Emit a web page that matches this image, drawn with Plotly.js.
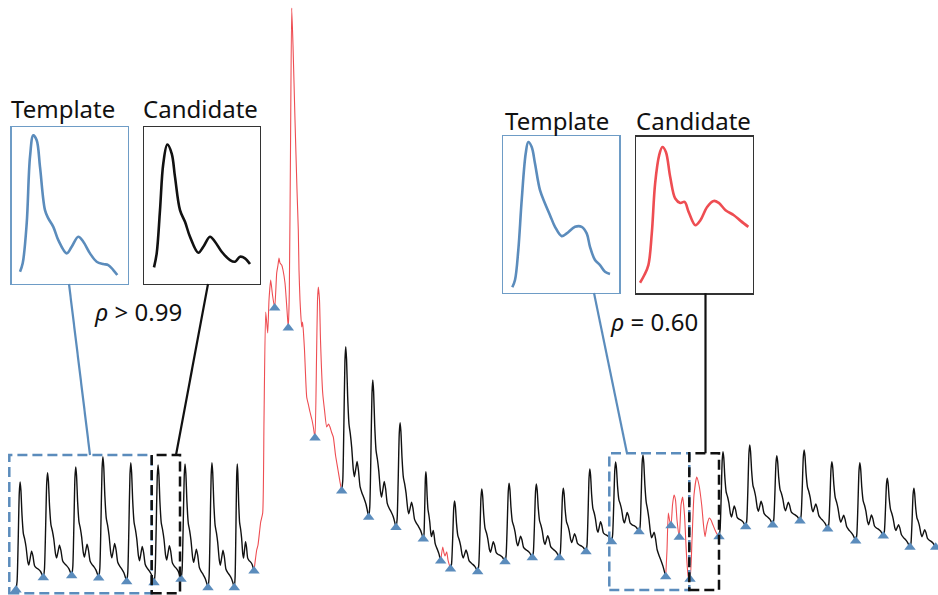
<!DOCTYPE html>
<html>
<head>
<meta charset="utf-8">
<script src="https://cdn.plot.ly/plotly-3.0.1.min.js"></script>
<style>
  html, body { margin: 0; padding: 0; background: #fff; }
  #chart { width: 938px; height: 595px; }
</style>
</head>
<body>
<div id="chart"></div>
<script>
// ---- Pulse signal: detected beat onsets (time, level) ----
const onsetTime = [16, 43.3, 71.7, 98.7, 126.7, 154, 181, 208, 234.3, 254,
  274.7, 288.3, 315, 341.7, 368.7, 396, 423.3, 440.7, 450.5, 477.7,
  505, 532.3, 559.3, 586, 611.5, 639, 665.7, 671, 679.3, 690,
  719, 745.7, 772.7, 800, 827.7, 855.7, 883.3, 910, 935.7];
const onsetLevel = [5, 17.3, 19.3, 17, 13.3, 12.3, 15.7, 7.3, 7.3, 24,
  287, 267, 157, 104, 77.7, 67.5, 56, 34, 26, 23.3,
  33.3, 37.3, 37.3, 43.3, 53.3, 63.3, 18.3, 69.3, 57.7, 15.7,
  58.3, 68.3, 70, 74, 66, 54, 59, 47.7, 47.7];
// Systolic peak of each clean beat (null = beat flagged as artifact)
const peakLevel = [113, 122.3, 128, 138.3, 132.3, 130, 131, 132.3, 131, null,
  null, null, null, 248.3, 215, 172.3, 123.3, null, 94, 106,
  111.7, 111, 106.7, 126, 133, 140, null, null, null, null,
  143.3, 150, 139.3, 145, 133.3, 132.3, 116.7, 106.7, null];

// Normalised pulse contour (fraction of beat duration, fraction of amplitude)
const shapePhase = [0, 0.04, 0.08, 0.12, 0.15, 0.18, 0.22, 0.27, 0.32, 0.37, 0.43,
  0.47, 0.52, 0.57, 0.62, 0.68, 0.75, 0.82, 0.9, 0.96, 1];
const shapeFrac = [0, 0.08, 0.45, 0.9, 1, 0.92, 0.68, 0.5, 0.44, 0.36, 0.22,
  0.18, 0.24, 0.3, 0.25, 0.15, 0.12, 0.1, 0.07, 0.03, 0];

// ---- Artifact segments of the signal ----
const artifactTime = [
  254, 256.7, 258, 260.7, 262.7, 264, 265.7, 267.7, 269, 270.7, 272.5, 274.7, 276.7, 278, 279, 280,
  281.7, 283, 285, 287, 288.3, 289.3, 290.5, 291.7, 293, 295, 297, 298.3, 299, 300, 301.7, 302.5,
  303.3, 304.5, 306.7, 308.5, 310, 312, 313.5, 315, 316.5, 317.5, 318.3, 319.5, 320.5, 322.7, 324.5,
  326.7, 328.5, 330, 331.5, 333.3, 335.5, 338, 340, 341.7, null,
  440.7, 442.7, 444, 445, 446.7, 448, 450.5, null,
  665.7, 667, 668.3, 669.5, 671, 672.5, 674, 675.5, 677, 679.3, 681, 682.7, 684.5, 686.5, 688.3,
  690, 692, 694, 696.7, 699, 701.7, 703.5, 705, 707, 709.3, 711, 713, 715, 717, 719];
const artifactLevel = [
  24, 45, 50, 73, 82, 175, 283, 262, 295, 315, 300, 287, 322, 330, 337, 332,
  330, 325, 312, 285, 267, 302, 445, 587, 550, 475, 405, 365, 325, 295, 268, 273,
  265, 245, 198, 190, 183, 175, 167, 157, 235, 295, 308, 295, 255, 202, 185,
  168, 171, 168, 163, 158, 140, 125, 113, 104, null,
  34, 48, 42, 39, 43.3, 35, 26, null,
  18.3, 45, 82, 75, 69.3, 90, 100, 95, 75, 58, 90, 98, 80, 40, 18.3,
  15.7, 55, 100, 118, 110, 90, 70, 58.3, 70, 77, 75, 70, 65, 61, 58.3];

// ---- Beat contours shown in the comparison panels ----
const tplA_t = [8.3, 11, 15, 18.3, 21.6, 25, 28.3, 33.3, 36.6, 41.6, 46.6, 55, 60, 66.6, 71.6, 78.3, 85, 91.6, 96.6, 101.6, 105.6];
const tplA_v = [12.3, 20.7, 60.7, 127.3, 149, 144, 117.3, 74, 65.7, 57.3, 44, 30.7, 37.3, 47.3, 42.3, 30.7, 22.3, 20, 19, 14, 9];
const candA_t = [10, 12.7, 16, 19.3, 23.3, 27.7, 31, 36, 41, 46, 54.3, 59.3, 66, 71, 77.7, 86, 91, 96, 101, 106];
const candA_v = [16.7, 30.7, 74, 120.7, 139.7, 130.7, 107.3, 74, 62.3, 47.3, 31.3, 37.3, 47.3, 42.3, 32.3, 24, 22.3, 27.3, 25.7, 20];
const tplB_t = [9, 11.7, 15, 18.4, 22.4, 25, 28.4, 31.7, 36.7, 41.7, 46.7, 51.7, 58.4, 63.4, 71.7, 78.4, 83.4, 86.7, 91.7, 96.7, 101.7, 106.7];
const tplB_v = [5.4, 12.7, 42.7, 92.7, 139.4, 151, 146, 129.4, 102.7, 89.4, 77.7, 66, 56.7, 59.4, 66, 66, 59.4, 46, 32.7, 27.7, 21, 18.7];
const candB_t = [4, 8.3, 12.3, 15.7, 19, 23, 26.3, 29.7, 34, 39, 44, 48.3, 52.3, 59, 64, 70.7, 77.3, 82.3, 89, 97.3, 104, 111.7];
const candB_v = [10.6, 18.3, 28.3, 60, 110, 138.3, 146.6, 141.6, 116.6, 95, 90.6, 91.6, 81.6, 68.3, 73.3, 86.6, 92.6, 90.6, 83.3, 78.3, 72.6, 66.6];

const BLUE = '#5b8cbc';
const RED = '#ee4d52';
const W = 938, H = 595;

// Trace clean beats between consecutive onsets using the pulse contour
const peakIdx = shapeFrac.indexOf(Math.max(...shapeFrac));
const cleanT = [], cleanV = [];
let prevClean = false;
for (let i = 0; i < onsetTime.length - 1; i++) {
  if (peakLevel[i] === null) {
    if (prevClean) { cleanT.push(null); cleanV.push(null); }
    prevClean = false;
    continue;
  }
  const t0 = onsetTime[i], t1 = onsetTime[i + 1];
  const v0 = onsetLevel[i], v1 = onsetLevel[i + 1];
  const amp = peakLevel[i] - (v0 + (v1 - v0) * shapePhase[peakIdx]);
  for (let k = prevClean ? 1 : 0; k < shapePhase.length; k++) {
    const p = shapePhase[k];
    cleanT.push(t0 + (t1 - t0) * p);
    cleanV.push(v0 + (v1 - v0) * p + amp * shapeFrac[k]);
  }
  prevClean = true;
}

const traces = [
  { x: cleanT, y: cleanV, mode: 'lines', line: { color: '#111', width: 1.4, shape: 'spline', smoothing: 0.6 },
    xaxis: 'x', yaxis: 'y', hoverinfo: 'skip' },
  { x: artifactTime, y: artifactLevel, mode: 'lines', line: { color: RED, width: 1.1, shape: 'spline', smoothing: 0.5 },
    xaxis: 'x', yaxis: 'y', hoverinfo: 'skip' },
  { x: onsetTime, y: onsetLevel, mode: 'markers',
    marker: { symbol: 'triangle-up', size: 10, color: BLUE }, xaxis: 'x', yaxis: 'y' },
  { x: tplA_t, y: tplA_v, mode: 'lines', line: { color: BLUE, width: 2.6, shape: 'spline' }, xaxis: 'x2', yaxis: 'y2' },
  { x: candA_t, y: candA_v, mode: 'lines', line: { color: '#111', width: 2.6, shape: 'spline' }, xaxis: 'x3', yaxis: 'y3' },
  { x: tplB_t, y: tplB_v, mode: 'lines', line: { color: BLUE, width: 2.6, shape: 'spline' }, xaxis: 'x4', yaxis: 'y4' },
  { x: candB_t, y: candB_v, mode: 'lines', line: { color: RED, width: 2.6, shape: 'spline' }, xaxis: 'x5', yaxis: 'y5' }
];

// Panel boxes in page pixels: [left, top, right, bottom]
const panels = [
  [11.7, 127.3, 127.7, 284, '#6e9cc6'],
  [144, 127.3, 260, 284, '#333'],
  [503.3, 136, 619.3, 292.7, '#6e9cc6'],
  [636, 136.7, 752.7, 293.3, '#333']
];
function panelAxes(p) {
  const base = { showgrid: false, zeroline: false, showticklabels: false, ticks: '',
    showline: true, mirror: true, linecolor: p[4], linewidth: 1.3, fixedrange: true };
  return [
    Object.assign({}, base, { domain: [p[0] / W, p[2] / W], range: [0, 116] }),
    Object.assign({}, base, { domain: [1 - p[3] / H, 1 - p[1] / H], range: [0, 157] })
  ];
}

const layout = {
  width: W, height: H,
  margin: { l: 0, r: 0, t: 0, b: 0 },
  paper_bgcolor: '#fff', plot_bgcolor: 'rgba(0,0,0,0)',
  showlegend: false,
  font: { family: 'Noto Sans, sans-serif', color: '#111' },
  xaxis: { range: [0, W], visible: false, domain: [0, 1], fixedrange: true },
  yaxis: { range: [0, H], visible: false, domain: [0, 1], fixedrange: true },
  shapes: [
    // clean-window selection (template + candidate)
    { type: 'rect', xref: 'x', yref: 'y', x0: 9.3, x1: 151.7, y0: 1.7, y1: 140,
      line: { color: BLUE, width: 2.5, dash: '10px,5px' } },
    { type: 'rect', xref: 'x', yref: 'y', x0: 151.7, x1: 180, y0: 1.7, y1: 140,
      line: { color: '#111', width: 2.5, dash: '10px,5px' } },
    { type: 'line', xref: 'x', yref: 'y', x0: 69, y0: 311, x1: 90, y1: 140,
      line: { color: BLUE, width: 2.2 } },
    { type: 'line', xref: 'x', yref: 'y', x0: 208, y0: 311, x1: 176, y1: 140,
      line: { color: '#111', width: 2.2 } },
    // artifact window selection
    { type: 'rect', xref: 'x', yref: 'y', x0: 609.3, x1: 689.3, y0: 5, y1: 141.7,
      line: { color: BLUE, width: 2.5, dash: '10px,5px' } },
    { type: 'rect', xref: 'x', yref: 'y', x0: 689.3, x1: 719, y0: 5, y1: 141.7,
      line: { color: '#111', width: 2.5, dash: '10px,5px' } },
    { type: 'line', xref: 'x', yref: 'y', x0: 594, y0: 302, x1: 627, y1: 141.7,
      line: { color: BLUE, width: 2.2 } },
    { type: 'line', xref: 'x', yref: 'y', x0: 705.5, y0: 301.7, x1: 705.5, y1: 141.7,
      line: { color: '#111', width: 2.2 } }
  ],
  annotations: [
    { text: 'Template', x: 63, y: 487 },
    { text: 'Candidate', x: 200, y: 487 },
    { text: 'Template', x: 556.5, y: 475 },
    { text: 'Candidate', x: 693, y: 475 },
    { text: '<i>ρ</i> > 0.99', x: 138, y: 283.3 },
    { text: '<i>ρ</i> = 0.60', x: 654, y: 273.3 }
  ].map(a => Object.assign({ xref: 'x', yref: 'y', showarrow: false, xanchor: 'center', yanchor: 'middle',
    font: { size: 24, family: 'Noto Sans, sans-serif', color: '#111' } }, a))
};

panels.forEach((p, i) => {
  const [xa, ya] = panelAxes(p);
  const n = i + 2;
  xa.anchor = 'y' + n; ya.anchor = 'x' + n;
  layout['xaxis' + n] = xa;
  layout['yaxis' + n] = ya;
});

Plotly.newPlot('chart', traces, layout, { displayModeBar: false, staticPlot: true });
</script>
</body>
</html>
